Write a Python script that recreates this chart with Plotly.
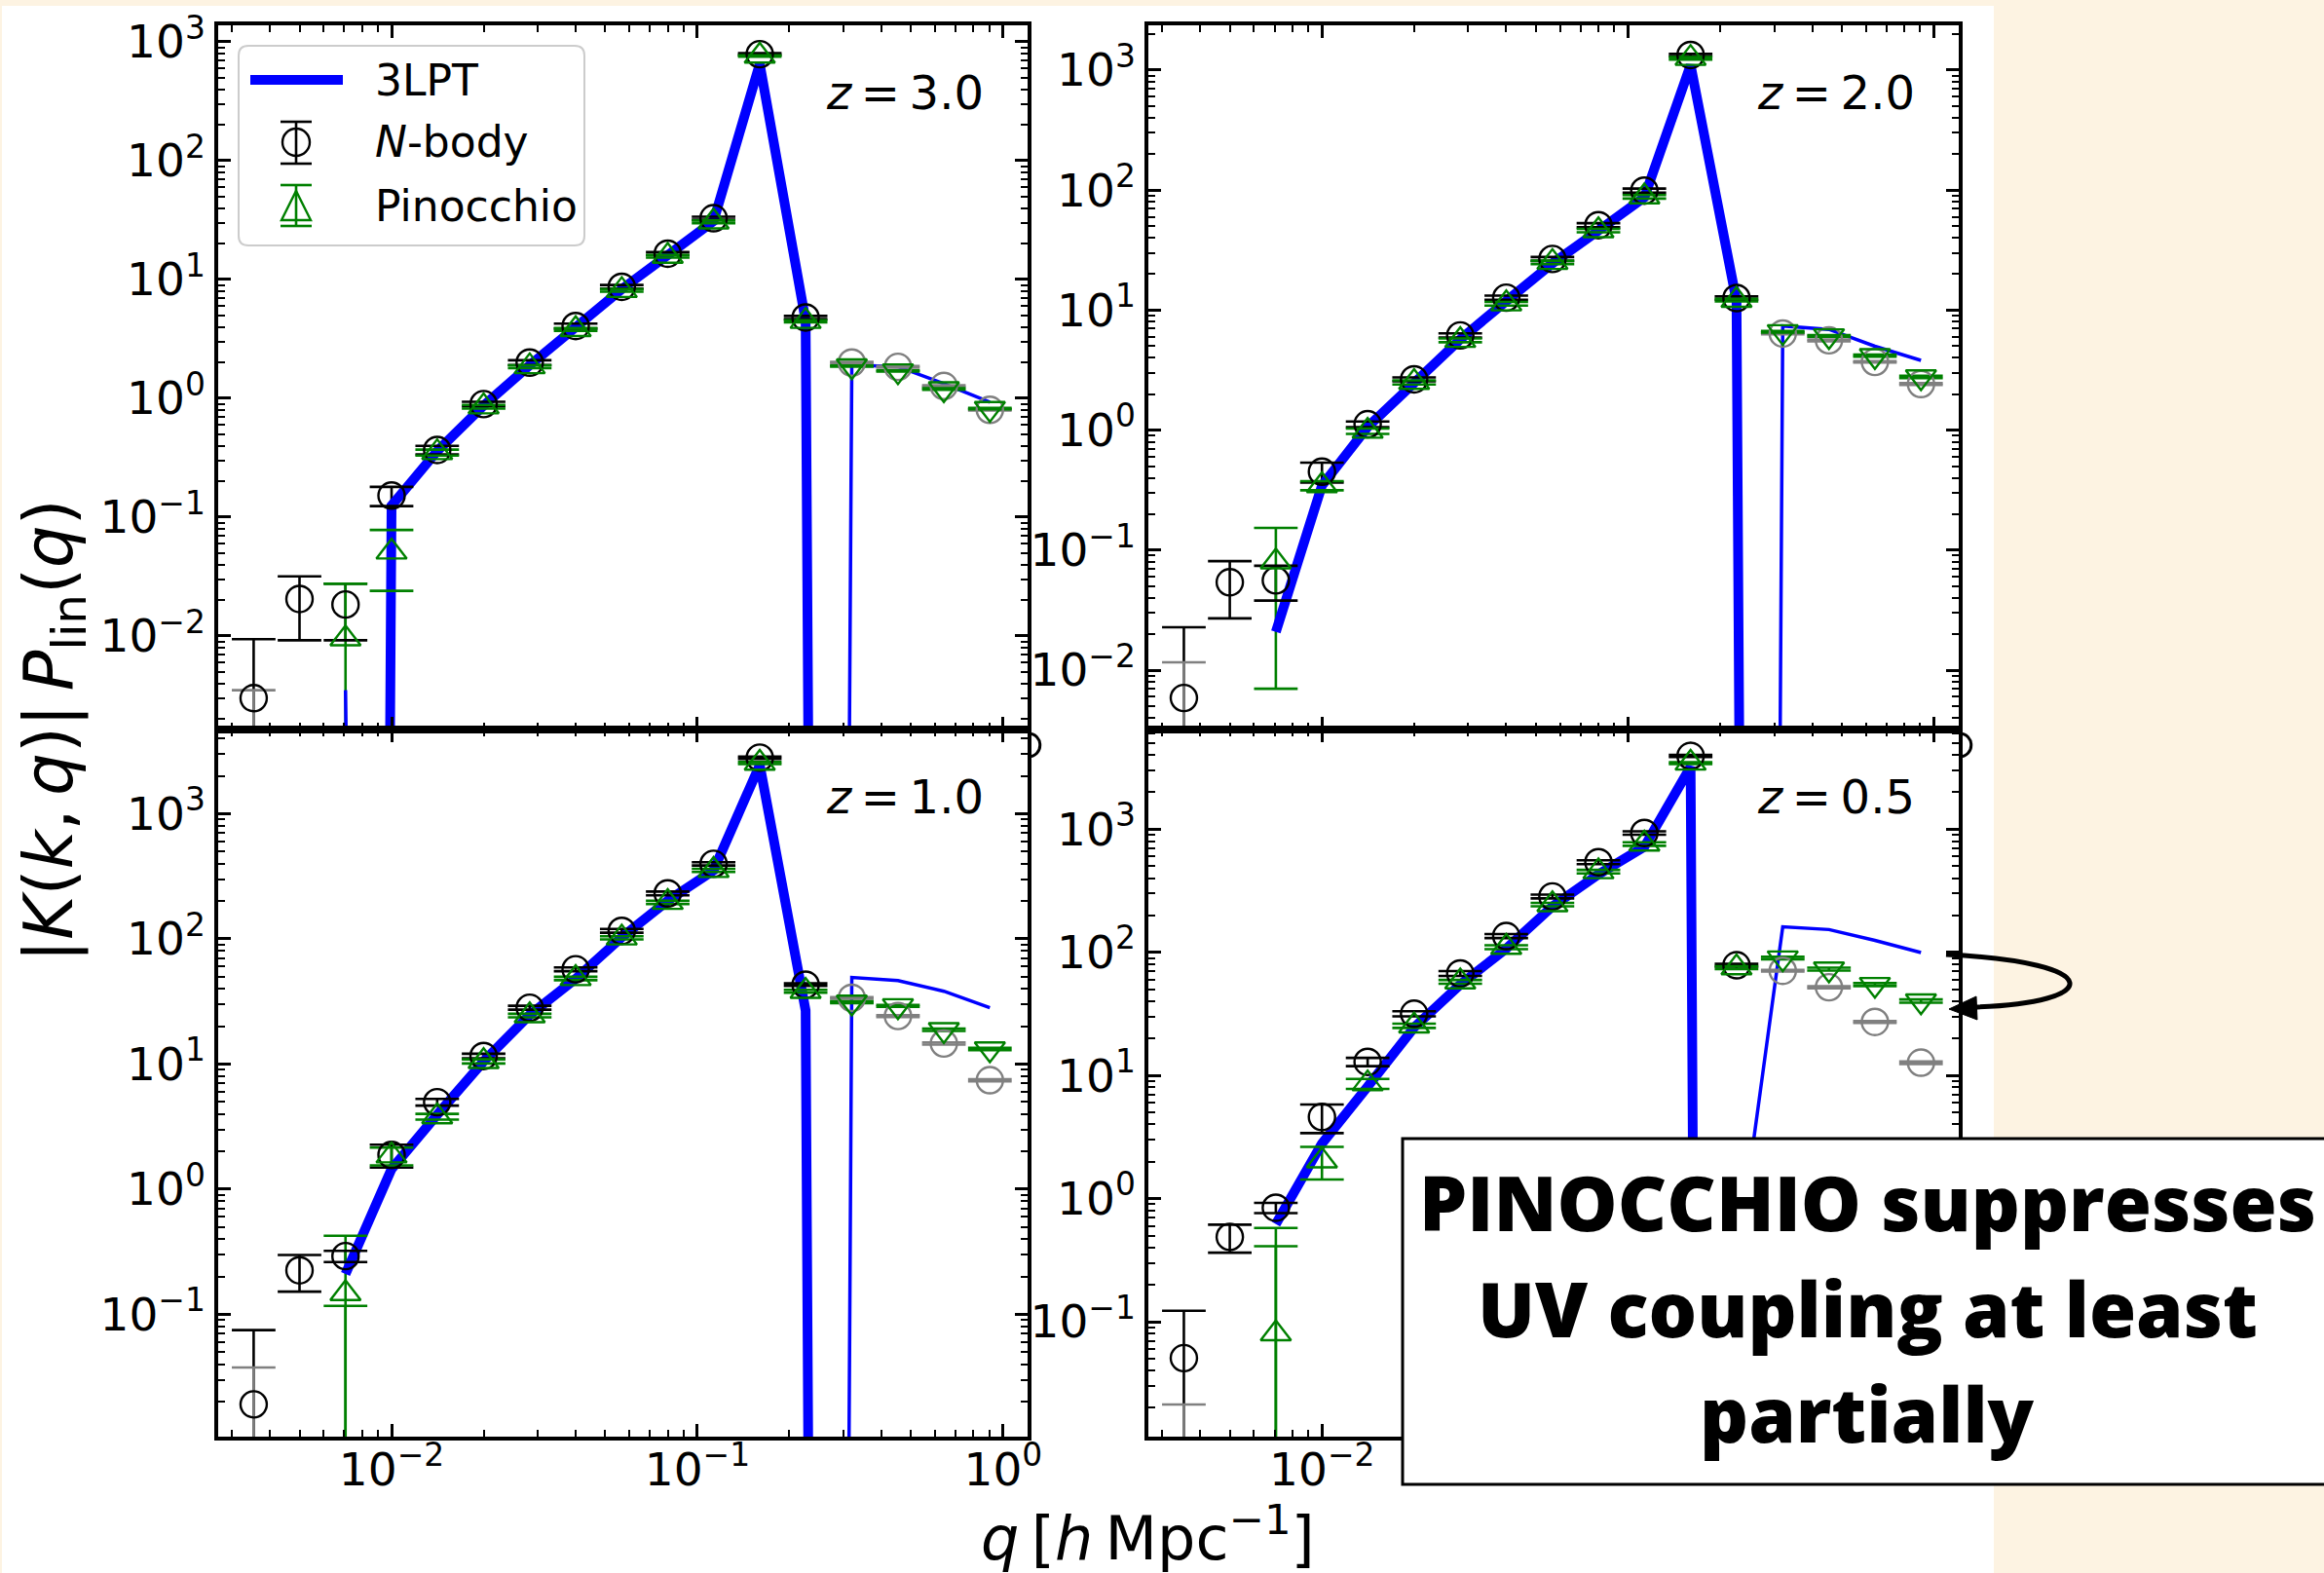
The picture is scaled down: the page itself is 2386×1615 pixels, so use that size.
import plotly.graph_objects as go

W, H = 2386, 1615
FLOOR = 1e-60          # stand-in for "zero" on the log axes (line drops off the bottom)

# wavenumbers of the bins [h/Mpc]
Q = [0.00354, 0.005, 0.00707, 0.01, 0.0141, 0.02, 0.0283, 0.04, 0.0566,
     0.08, 0.113, 0.16, 0.226, 0.32, 0.453, 0.64, 0.905]

# ---- z = 3.0 ---------------------------------------------------------------
LPT_Z30 = [None, None, -0.0035, 0.125, 0.36, 0.87, 1.9, 3.9, 8.3, 16.0, 31.0,
           650.0, 4.5, -1.91, -1.85, -1.33, -0.93]
NBODY_Z30 = [0.0030, 0.0205, 0.0184, 0.152, 0.368, 0.895, 2.0, 4.06, 8.68, 16.5,
             32.8, 788.0, 4.79, -2.0, -1.84, -1.27, -0.80]
NBODY_ERR_Z30 = [0.0064, 0.0113, 0.0092, 0.028, 0.03, 0.04, 0.09, 0.2, 0.3, 0.5,
                 1.0, 15.0, 0.15, 0.03, 0.03, 0.02, 0.01]
NBODY_TAIL_Z30 = [0.0035, None, None, None, None, None, None, None, None, None,
                  None, None, None, None, None, None, None]
PINO_Z30 = [None, None, 0.0095, 0.051, 0.35, 0.85, 1.85, 3.8, 8.1, 15.7, 30.6,
            760.0, 4.45, -1.87, -1.70, -1.20, -0.82]
PINO_ERR_Z30 = [None, None, 0.018, 0.027, 0.02, 0.03, 0.05, 0.1, 0.2, 0.4, 0.8,
                10.0, 0.1, 0.02, 0.02, 0.02, 0.01]
PINO_TAIL_Z30 = [None, None, None, None, None, None, None, None, None, None,
                 None, None, None, None, None, None, None]

# ---- z = 2.0 ---------------------------------------------------------------
LPT_Z20 = [None, None, 0.0208, 0.345, 1.06, 2.5, 5.7, 11.9, 24.5, 46.0, 87.0,
           1100.0, 11.9, -7.38, -6.9, -5.0, -3.81]
NBODY_Z20 = [0.00586, 0.054, 0.056, 0.45, 1.12, 2.65, 6.15, 12.7, 26.7, 51.0,
             99.0, 1336.0, 12.6, -6.38, -5.6, -3.7, -2.42]
NBODY_ERR_Z20 = [0.0169, 0.027, 0.018, 0.085, 0.06, 0.1, 0.25, 0.5, 1.0, 2.0,
                 4.0, 30.0, 0.4, 0.1, 0.1, 0.05, 0.04]
NBODY_TAIL_Z20 = [0.0116, None, None, None, None, None, None, None, None, None,
                  None, None, None, None, None, None, None]
PINO_Z20 = [None, None, 0.080, 0.345, 0.98, 2.5, 5.6, 11.3, 25.0, 46.0, 88.0,
            1254.0, 12.1, -6.6, -6.1, -4.17, -2.77]
PINO_ERR_Z20 = [None, None, 0.073, 0.03, 0.05, 0.1, 0.2, 0.4, 0.8, 1.5, 3.0,
                30.0, 0.3, 0.1, 0.1, 0.08, 0.06]
PINO_TAIL_Z20 = [None, None, None, None, None, None, None, None, None, None,
                 None, None, None, None, None, None, None]

# ---- z = 1.0 ---------------------------------------------------------------
LPT_Z10 = [None, None, 0.21, 1.45, 3.93, 10.5, 24.7, 48.0, 103.0, 202.0, 353.0,
           2450.0, 26.8, -49.2, -46.5, -38.2, -28.2]
NBODY_Z10 = [0.0191, 0.225, 0.292, 1.88, 4.96, 11.6, 28.2, 57.2, 116.0, 231.0,
             398.0, 2805.0, 43.1, -33.8, -24.2, -14.6, -7.43]
NBODY_ERR_Z10 = [0.0557, 0.073, 0.03, 0.39, 0.3, 0.5, 1.0, 2.0, 4.0, 8.0,
                 12.0, 60.0, 1.0, 0.5, 0.4, 0.3, 0.15]
NBODY_TAIL_Z10 = [0.0376, None, None, None, None, None, None, None, None, None,
                  None, None, None, None, None, None, None]
PINO_Z10 = [None, None, 0.147, 1.85, 3.8, 10.5, 24.4, 48.3, 102.0, 196.0, 353.0,
            2540.0, 38.2, -31.2, -29.2, -18.8, -13.2]
PINO_ERR_Z10 = [None, None, 0.278, 0.3, 0.2, 0.4, 0.8, 1.5, 3.0, 6.0, 10.0,
                50.0, 1.0, 0.5, 0.5, 0.4, 0.3]
PINO_TAIL_Z10 = [None, None, 0.117, None, None, None, None, None, None, None,
                 None, None, None, None, None, None, None]

# ---- z = 0.5 ---------------------------------------------------------------
LPT_Z05 = [None, None, 0.62, 2.8, 8.1, 24.5, 54.7, 107.0, 236.0, 430.0, 719.0,
           3205.0, -0.285, -161.0, -153.0, -125.0, -99.5]
NBODY_Z05 = [0.0507, 0.489, 0.843, 4.6, 12.9, 31.7, 67.3, 135.5, 284.0, 539.0,
             931.0, 3936.0, 78.5, -70.8, -52.0, -27.2, -12.7]
NBODY_ERR_Z05 = [0.072, 0.125, 0.08, 1.2, 1.0, 1.5, 3.0, 5.0, 10.0, 20.0,
                 30.0, 80.0, 2.0, 1.0, 1.0, 0.5, 0.3]
NBODY_TAIL_Z05 = [0.0213, None, None, None, None, None, None, None, None, None,
                  None, None, None, None, None, None, None]
PINO_Z05 = [None, None, 0.08, 2.03, 8.57, 25.3, 57.6, 110.0, 244.0, 452.0, 757.0,
            3443.0, 75.0, -89.8, -73.0, -54.7, -40.2]
PINO_ERR_Z05 = [None, None, 0.497, 0.6, 0.8, 1.0, 2.0, 4.0, 8.0, 15.0, 25.0,
                60.0, 2.0, 2.0, 2.0, 1.5, 1.2]
PINO_TAIL_Z05 = [None, None, 0.41, None, None, None, None, None, None, None,
                 None, None, None, None, None, None, None]

Z_LABELS = ["3.0", "2.0", "1.0", "0.5"]
Y_RANGES = [[-2.787, 3.139], [-2.495, 3.373], [-1.977, 3.673], [-1.933, 3.809]]
Y_TICK_EXP = [[-2, -1, 0, 1, 2, 3], [-2, -1, 0, 1, 2, 3],
              [-1, 0, 1, 2, 3], [-1, 0, 1, 2, 3]]
X_TICK_EXP = [-2, -1, 0]
X_RANGE = [-2.567, 0.080]

BLUE, GREEN, GRAY = "#0000ff", "#008000", "#808080"
MATH_FONT = "DejaVu Sans"

# panel frames in pixels (left, right) / (top, bottom)
COL_X = [(224, 1055), (1179, 2011)]
ROW_Y = [(26, 749), (749, 1475)]


def fx(x):
    return x / W


def fy(y):
    return 1 - y / H


def P(x, y):
    return f"{fx(x):.6f},{fy(y):.6f}"


def pow_label(e):
    return "10<sup>" + ("\u2212" + str(-e) if e < 0 else str(e)) + "</sup>"


panels = [
    (LPT_Z30, NBODY_Z30, NBODY_ERR_Z30, NBODY_TAIL_Z30, PINO_Z30, PINO_ERR_Z30, PINO_TAIL_Z30),
    (LPT_Z20, NBODY_Z20, NBODY_ERR_Z20, NBODY_TAIL_Z20, PINO_Z20, PINO_ERR_Z20, PINO_TAIL_Z20),
    (LPT_Z10, NBODY_Z10, NBODY_ERR_Z10, NBODY_TAIL_Z10, PINO_Z10, PINO_ERR_Z10, PINO_TAIL_Z10),
    (LPT_Z05, NBODY_Z05, NBODY_ERR_Z05, NBODY_TAIL_Z05, PINO_Z05, PINO_ERR_Z05, PINO_TAIL_Z05),
]

MINOR = [m * 10.0 ** k for k in range(-4, 5) for m in range(2, 10)]

fig = go.Figure()


def add_bars(xref, yref, vals, errs, tails, pos_color, neg_color):
    """Vertical error-bar stems plus cap markers for one series."""
    groups = {}
    for q, v, e in zip(Q, vals, errs):
        if v is None:
            continue
        col = pos_color if v > 0 else neg_color
        a = abs(v)
        lo, hi = a - e, a + e
        g = groups.setdefault(col, {"sx": [], "sy": [], "cx": [], "cy": []})
        g["sx"] += [q, q, None]
        g["sy"] += [lo if lo > 0 else FLOOR, hi, None]
        g["cx"].append(q)
        g["cy"].append(hi)
        if lo > 0:
            g["cx"].append(q)
            g["cy"].append(lo)
    for q, t in zip(Q, tails):
        if t is None:
            continue
        g = groups.setdefault(neg_color, {"sx": [], "sy": [], "cx": [], "cy": []})
        g["sx"] += [q, q, None]
        g["sy"] += [FLOOR, t, None]
        g["cx"].append(q)
        g["cy"].append(t)
    stems, caps = [], []
    for col, g in groups.items():
        stems.append(go.Scatter(x=g["sx"], y=g["sy"], mode="lines", xaxis=xref, yaxis=yref,
                                line=dict(color=col, width=2.6), hoverinfo="skip",
                                showlegend=False))
        caps.append(go.Scatter(x=g["cx"], y=g["cy"], mode="markers", xaxis=xref, yaxis=yref,
                               marker=dict(symbol="line-ew-open", size=32, color=col,
                                           line=dict(color=col, width=2.6)),
                               hoverinfo="skip", showlegend=False))
    return stems, caps


for i, (lpt, nb, nb_err, nb_tail, pin, pin_err, pin_tail) in enumerate(panels):
    row, col = divmod(i, 2)
    n = i + 1
    xref = "x" if n == 1 else f"x{n}"
    yref = "y" if n == 1 else f"y{n}"

    nb_stems, nb_caps = add_bars(xref, yref, nb, nb_err, nb_tail, "black", GRAY)
    pin_stems, pin_caps = add_bars(xref, yref, pin, pin_err, pin_tail, GREEN, GREEN)
    for t in nb_stems + pin_stems:
        fig.add_trace(t)

    # 3LPT: positive part thick, |negative part| thin; the other sign drops to the floor
    pos = [None if v is None else (v if v > 0 else FLOOR) for v in lpt]
    neg = [None if v is None else (-v if v < 0 else FLOOR) for v in lpt]
    fig.add_trace(go.Scatter(x=Q, y=pos, mode="lines", xaxis=xref, yaxis=yref,
                             line=dict(color=BLUE, width=10), showlegend=False,
                             hoverinfo="skip"))
    fig.add_trace(go.Scatter(x=Q, y=neg, mode="lines", xaxis=xref, yaxis=yref,
                             line=dict(color=BLUE, width=3.5), showlegend=False,
                             hoverinfo="skip"))

    for t in nb_caps + pin_caps:
        fig.add_trace(t)

    # N-body: black where positive, grey where negative
    for sign, colr in ((1, "black"), (-1, GRAY)):
        xs = [q for q, v in zip(Q, nb) if v is not None and v * sign > 0]
        ys = [abs(v) for v in nb if v is not None and v * sign > 0]
        fig.add_trace(go.Scatter(x=xs, y=ys, mode="markers", xaxis=xref, yaxis=yref,
                                 marker=dict(symbol="circle-open", size=27, color=colr,
                                             line=dict(width=2.4, color=colr)),
                                 showlegend=False))
    # Pinocchio: up-triangles where positive, down-triangles where negative
    for sign, sym in ((1, "triangle-up-open"), (-1, "triangle-down-open")):
        xs = [q for q, v in zip(Q, pin) if v is not None and v * sign > 0]
        ys = [abs(v) for v in pin if v is not None and v * sign > 0]
        fig.add_trace(go.Scatter(x=xs, y=ys, mode="markers", xaxis=xref, yaxis=yref,
                                 marker=dict(symbol=sym, size=27, color=GREEN,
                                             line=dict(width=2.4, color=GREEN)),
                                 showlegend=False))

    x0, x1 = COL_X[col]
    y0, y1 = ROW_Y[row]
    # in the lower-right panel only the first x label sits outside the call-out box
    x_text = [pow_label(e) if (col == 0 or e == -2) else "" for e in X_TICK_EXP]
    common = dict(type="log", showline=True, linewidth=3.5, linecolor="black",
                  mirror="allticks", ticks="inside", ticklen=13, tickwidth=2.5,
                  tickcolor="black", showgrid=False, zeroline=False, automargin=False,
                  tickfont=dict(family=MATH_FONT, size=47, color="black"),
                  minor=dict(ticks="inside", ticklen=7, tickwidth=2, tickcolor="black",
                             tickvals=MINOR, showgrid=False))
    xa = dict(common, domain=[fx(x0), fx(x1)], range=X_RANGE, anchor=yref,
              tickmode="array", tickvals=[10.0 ** e for e in X_TICK_EXP],
              ticktext=x_text, showticklabels=(row == 1), ticklabelstandoff=-10)
    ya = dict(common, domain=[fy(y1), fy(y0)], range=Y_RANGES[i], anchor=xref,
              tickmode="array", tickvals=[10.0 ** e for e in Y_TICK_EXP[i]],
              ticktext=[pow_label(e) for e in Y_TICK_EXP[i]], ticklabelstandoff=0)
    fig.update_layout({("xaxis" if n == 1 else f"xaxis{n}"): xa,
                       ("yaxis" if n == 1 else f"yaxis{n}"): ya})

    fig.add_annotation(x=fx(x1 - 43), y=fy(y0 + 69), xref="paper", yref="paper",
                       xanchor="right", yanchor="middle", showarrow=False,
                       text="<i>z</i>\u2009=\u2009" + Z_LABELS[i],
                       font=dict(family=MATH_FONT, size=48, color="black"))

shapes = []
# page: cream border with white figure area
shapes.append(dict(type="rect", xref="paper", yref="paper", layer="below",
                   x0=fx(2), x1=fx(2047), y0=fy(1615), y1=fy(6),
                   fillcolor="white", line=dict(width=0)))

# legend frame (rounded)
lx0, lx1, ly0, ly1, r = 245, 600, 47, 252, 10
legend_path = (f"M {P(lx0 + r, ly0)} L {P(lx1 - r, ly0)} Q {P(lx1, ly0)} {P(lx1, ly0 + r)} "
               f"L {P(lx1, ly1 - r)} Q {P(lx1, ly1)} {P(lx1 - r, ly1)} "
               f"L {P(lx0 + r, ly1)} Q {P(lx0, ly1)} {P(lx0, ly1 - r)} "
               f"L {P(lx0, ly0 + r)} Q {P(lx0, ly0)} {P(lx0 + r, ly0)} Z")
shapes.append(dict(type="path", xref="paper", yref="paper", layer="above", path=legend_path,
                   fillcolor="rgba(255,255,255,0.8)", line=dict(color="#cccccc", width=2)))
# legend handles
shapes.append(dict(type="line", xref="paper", yref="paper", layer="above",
                   x0=fx(257), x1=fx(352), y0=fy(82), y1=fy(82),
                   line=dict(color=BLUE, width=10)))
for yy0, yy1, colr in ((125, 168, "black"), (190, 232, GREEN)):
    shapes.append(dict(type="line", xref="paper", yref="paper", layer="above",
                       x0=fx(304), x1=fx(304), y0=fy(yy0), y1=fy(yy1),
                       line=dict(color=colr, width=2.6)))
    for yc in (yy0, yy1):
        shapes.append(dict(type="line", xref="paper", yref="paper", layer="above",
                           x0=fx(288), x1=fx(320), y0=fy(yc), y1=fy(yc),
                           line=dict(color=colr, width=2.6)))
shapes.append(dict(type="circle", xref="paper", yref="paper", layer="above",
                   x0=fx(290), x1=fx(318), y0=fy(160), y1=fy(132),
                   line=dict(color="black", width=2.4)))
shapes.append(dict(type="path", xref="paper", yref="paper", layer="above",
                   path=f"M {P(304, 196)} L {P(319, 226)} L {P(289, 226)} Z",
                   line=dict(color=GREEN, width=2.4)))

# bits of hidden tick labels peeking past the right spines
for xs in (1055, 2011):
    shapes.append(dict(type="path", xref="paper", yref="paper", layer="above",
                       path=f"M {P(xs, 753)} C {P(xs + 17, 753)} {P(xs + 17, 777)} {P(xs, 777)}",
                       line=dict(color="black", width=3)))

# call-out box
shapes.append(dict(type="rect", xref="paper", yref="paper", layer="above",
                   x0=fx(1440), x1=fx(2460), y0=fy(1524), y1=fy(1169),
                   fillcolor="white", line=dict(color="black", width=3)))
# curved arrow
shapes.append(dict(type="path", xref="paper", yref="paper", layer="above",
                   path=f"M {P(1998, 980)} C {P(2165, 988)} {P(2160, 1030)} {P(2026, 1034)}",
                   line=dict(color="black", width=5)))
shapes.append(dict(type="path", xref="paper", yref="paper", layer="above",
                   path=f"M {P(2001, 1036)} L {P(2029, 1023)} L {P(2030, 1047)} Z",
                   fillcolor="black", line=dict(color="black", width=1)))

fig.update_layout(shapes=shapes)

# legend labels
for txt, yc in (("3LPT", 82), ("<i>N</i>-body", 145), ("Pinocchio", 211)):
    fig.add_annotation(x=fx(383), y=fy(yc), xref="paper", yref="paper", xanchor="left",
                       yanchor="middle", showarrow=False, text=txt,
                       font=dict(family=MATH_FONT, size=44, color="black"))

# axis titles
fig.add_annotation(x=fx(54), y=fy(750), xref="paper", yref="paper", textangle=-90,
                   xanchor="center", yanchor="middle", showarrow=False,
                   text="|<i>K</i>(<i>k</i>,\u2009<i>q</i>)|\u2009<i>P</i><sub>lin</sub>(<i>q</i>)",
                   font=dict(family=MATH_FONT, size=69, color="black"))
fig.add_annotation(x=fx(1178), y=fy(1575), xref="paper", yref="paper",
                   xanchor="center", yanchor="middle", showarrow=False,
                   text="<i>q</i>\u2009[<i>h</i>\u2009Mpc<sup>\u22121</sup>]",
                   font=dict(family=MATH_FONT, size=62, color="black"))

# call-out text
for txt, yc in (("PINOCCHIO suppresses", 1234), ("UV coupling at least", 1343),
                ("partially", 1451)):
    fig.add_annotation(x=fx(1917), y=fy(yc), xref="paper", yref="paper",
                       xanchor="center", yanchor="middle", showarrow=False, text=txt,
                       font=dict(family="Open Sans", size=78, color="black", weight=800))

fig.update_layout(width=W, height=H, autosize=False,
                  margin=dict(l=0, r=0, t=0, b=0, pad=0, autoexpand=False),
                  paper_bgcolor="#fdf3e2", plot_bgcolor="white",
                  showlegend=False)

fig.write_html("out.html")
